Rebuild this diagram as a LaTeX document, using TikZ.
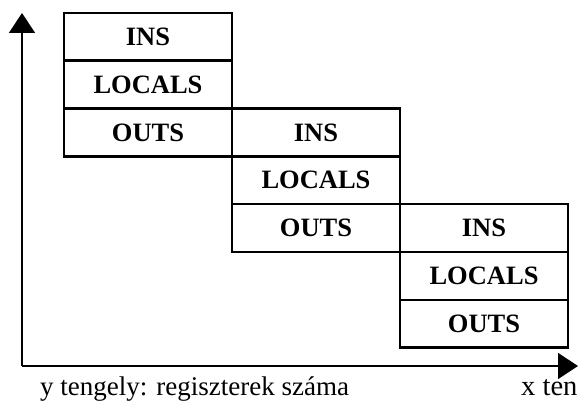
\documentclass[tikz,border=0pt]{standalone}
\usepackage{fontspec}
\setmainfont{Liberation Serif}
\usetikzlibrary{arrows.meta}
\begin{document}
\begin{tikzpicture}[x=1pt,y=-1pt,
  regbox/.style={draw,line width=2.6pt,minimum width=168pt,minimum height=47.8pt,
    inner sep=0pt,font=\fontsize{26.5}{29}\selectfont\bfseries},
  axis/.style={line width=1.4pt,-{Triangle[length=20pt,width=26pt]}},
  caption/.style={anchor=base west,inner sep=0pt,font=\fontsize{27}{30}\selectfont}]
  \useasboundingbox (0,0) rectangle (578,403);
  \clip (0,0) rectangle (578,403);
  % axes
  \coordinate (o) at (22,366);
  \coordinate (ytop) at (22,13);
  \coordinate (xend) at (578,366);
  \draw[axis] (o) -- (ytop);
  \draw[axis] (o) -- (xend);
  % register windows
  \foreach \w/\x/\y in {1/148/13, 2/316/108.6, 3/484/204.2} {
    \node[regbox] (ins\w) at (\x,\y+23.9) {INS};
    \node[regbox] (loc\w) at (\x,\y+71.7) {LOCALS};
    \node[regbox] (out\w) at (\x,\y+119.5) {OUTS};
  }
  % axis captions
  \node[caption] (ycap) at (40,395) {y tengely: regiszterek száma};
  \node[caption,font=\fontsize{28.5}{30}\selectfont] (xcap) at (521,395) {x tengely};
\end{tikzpicture}
\end{document}
